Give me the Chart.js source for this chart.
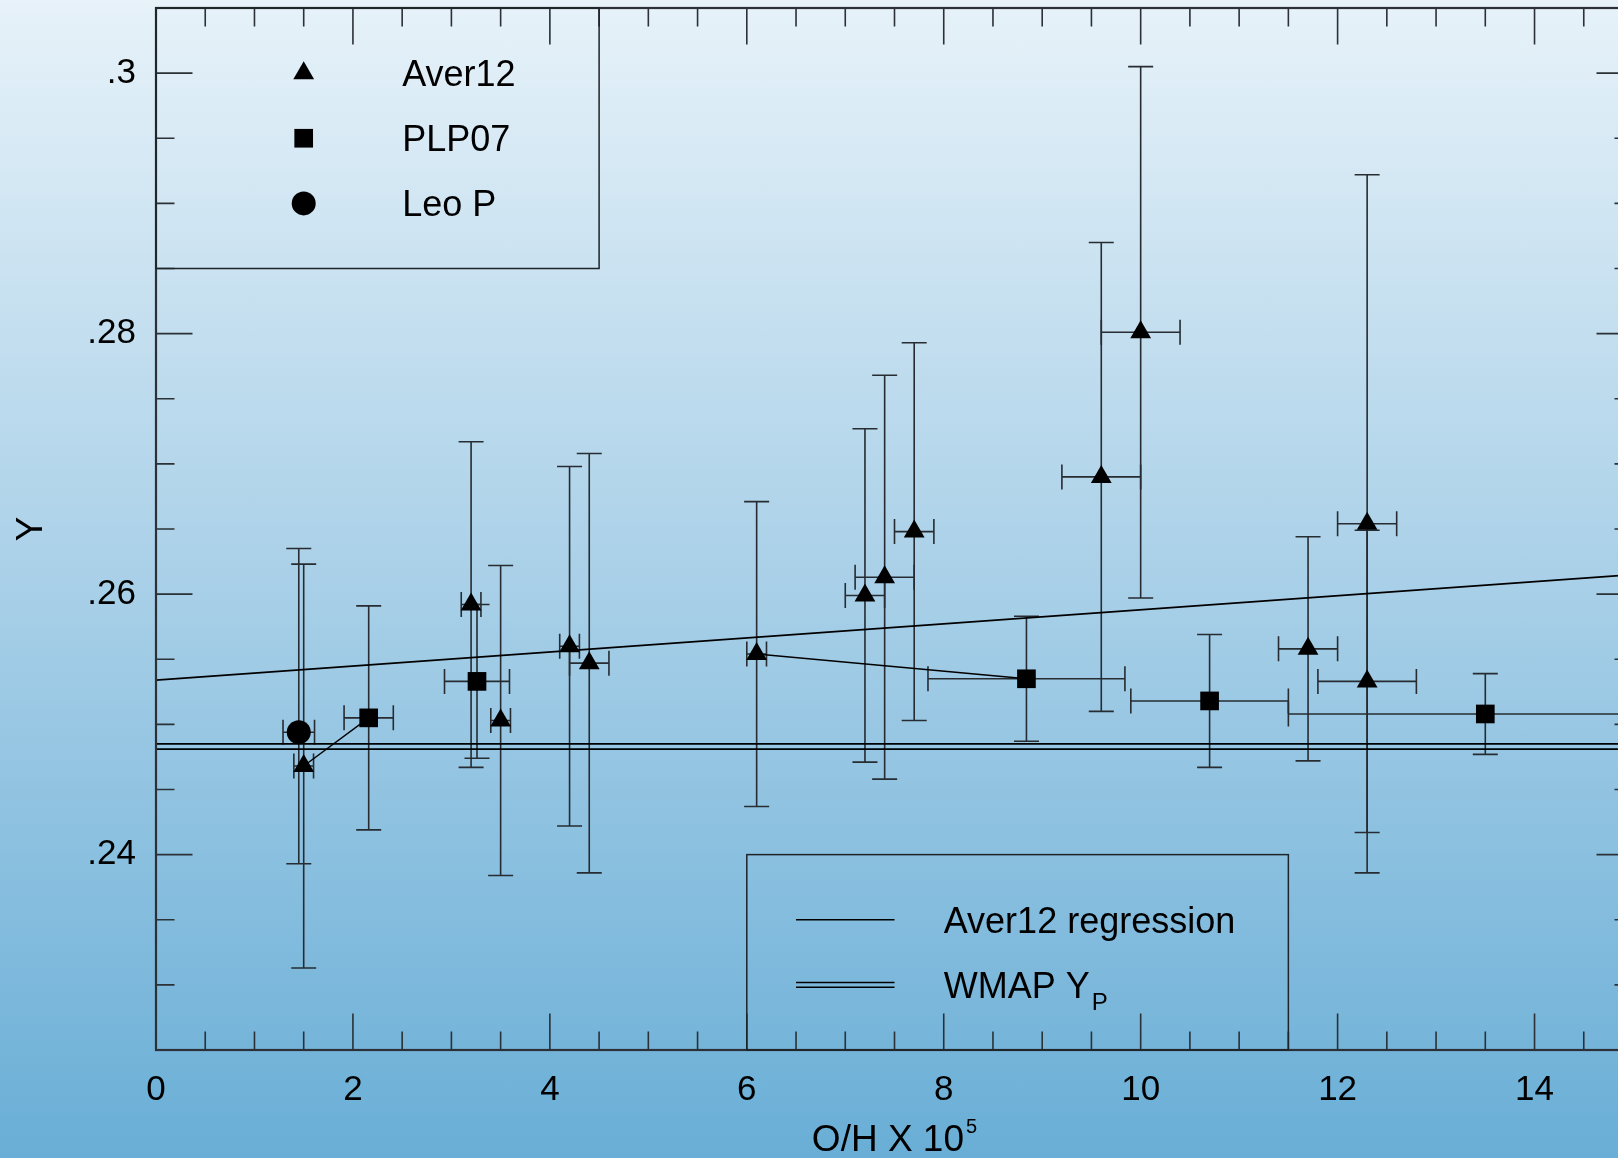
<!DOCTYPE html>
<html>
<head>
<meta charset="utf-8">
<title>Helium abundance versus O/H</title>
<script src="https://cdn.jsdelivr.net/npm/chart.js@4.4.0/dist/chart.umd.min.js"></script>
<style>
  html, body {
    margin: 0;
    padding: 0;
    width: 1618px;
    height: 1158px;
    overflow: hidden;
    background: linear-gradient(to bottom, #e7f2f9 0%, #a9d0e8 50%, #69aed6 100%);
  }
  #wrap {
    position: absolute;
    left: 0;
    top: 0;
    width: 1650px;
    height: 1158px;
  }
</style>
</head>
<body>
<div id="wrap"><canvas id="chart"></canvas></div>
<script>
// ---- Aver12 H II regions (O/H x 1e5, Y) ----
const averX    = [1.50, 3.20, 3.50, 4.20, 4.40, 6.10, 7.20, 7.40, 7.70, 9.60, 10.00, 11.70, 12.30, 12.30];
const averY    = [0.2468, 0.2592, 0.2503, 0.2560, 0.2547, 0.2554, 0.2599, 0.2613, 0.2648, 0.2690, 0.2801, 0.2558, 0.2654, 0.2533];
const averYErr = [0.0155, 0.0125, 0.0119, 0.0138, 0.0161, 0.0117, 0.0128, 0.0155, 0.0145, 0.0180, 0.0204, 0.0086, 0.0268, 0.0116];
const averXErr = [0.10, 0.10, 0.10, 0.10, 0.20, 0.10, 0.20, 0.30, 0.20, 0.40, 0.40, 0.30, 0.30, 0.50];

// ---- PLP07 ----
const plpX    = [2.16, 3.26, 8.84, 10.70, 13.50];
const plpY    = [0.2505, 0.2533, 0.2535, 0.2518, 0.2508];
const plpYErr = [0.0086, 0.0059, 0.0048, 0.0051, 0.0031];
const plpXErr = [0.25, 0.33, 1.00, 0.80, 2.00];

// ---- Leo P ----
const leoX      = [1.45];
const leoY      = [0.2494];
const leoYErrHi = [0.0141];
const leoYErrLo = [0.0101];
const leoXErr   = [0.16];

// ---- Aver12 regression line and WMAP Yp band ----
const regX  = [0, 15];
const regY  = [0.2534, 0.2615];
const wmapX = [0, 15];
const wmapHi = [0.2485, 0.2485];
const wmapLo = [0.2481, 0.2481];

// connecting segments: [Aver12 index, PLP07 index]
const links = [[0, 0], [5, 2]];

// ---- axes ----
const xTicks = [0, 2, 4, 6, 8, 10, 12, 14];
const xTickLabels = ['0', '2', '4', '6', '8', '10', '12', '14'];
const yTicks = [0.24, 0.26, 0.28, 0.30];
const yTickLabels = ['.24', '.26', '.28', '.3'];

const FONT = "'Liberation Sans', Arial, Helvetica, sans-serif";
const INK = '#000000';
const BAR = '#262c31';

function pts(xs, ys) { return xs.map((x, i) => ({ x: x, y: ys[i] })); }

const errorSeries = [
  { x: averX, y: averY, hi: averYErr, lo: averYErr, xe: averXErr },
  { x: plpX, y: plpY, hi: plpYErr, lo: plpYErr, xe: plpXErr },
  { x: leoX, y: leoY, hi: leoYErrHi, lo: leoYErrLo, xe: leoXErr }
];

// marker shapes shared by the plot and the legend
function drawMarker(ctx, style, x, y, r) {
  ctx.beginPath();
  if (style === 'triangle') {
    ctx.moveTo(x, y - r);
    ctx.lineTo(x + r * Math.sin(Math.PI * 2 / 3), y - r * Math.cos(Math.PI * 2 / 3));
    ctx.lineTo(x - r * Math.sin(Math.PI * 2 / 3), y - r * Math.cos(Math.PI * 2 / 3));
    ctx.closePath();
  } else if (style === 'rect') {
    const s = r * Math.SQRT1_2;
    ctx.rect(x - s, y - s, 2 * s, 2 * s);
  } else {
    ctx.arc(x, y, r, 0, Math.PI * 2);
  }
  ctx.fill();
}

const R_TRI = 12, R_RECT = 13.2, R_CIRC = 12;

const errorBars = {
  id: 'errorBars',
  beforeDatasetsDraw(chart) {
    const { ctx, scales: { x, y } } = chart;
    const cap = 12.5;
    ctx.save();
    ctx.strokeStyle = BAR;
    ctx.lineWidth = 1.6;
    errorSeries.forEach(s => {
      s.x.forEach((xv, i) => {
        const px = x.getPixelForValue(xv);
        const py = y.getPixelForValue(s.y[i]);
        const top = y.getPixelForValue(s.y[i] + s.hi[i]);
        const bot = y.getPixelForValue(s.y[i] - s.lo[i]);
        const l = x.getPixelForValue(xv - s.xe[i]);
        const r = x.getPixelForValue(xv + s.xe[i]);
        ctx.beginPath();
        ctx.moveTo(px, top); ctx.lineTo(px, bot);
        ctx.moveTo(px - cap, top); ctx.lineTo(px + cap, top);
        ctx.moveTo(px - cap, bot); ctx.lineTo(px + cap, bot);
        ctx.moveTo(l, py); ctx.lineTo(r, py);
        ctx.moveTo(l, py - cap); ctx.lineTo(l, py + cap);
        ctx.moveTo(r, py - cap); ctx.lineTo(r, py + cap);
        ctx.stroke();
      });
    });
    ctx.restore();
  }
};

// frame with inward major/minor ticks on all four sides, axis titles
const frame = {
  id: 'frame',
  afterDraw(chart) {
    const { ctx, chartArea: a, scales: { x, y } } = chart;
    const major = 36.5, minor = 18.5;
    ctx.save();
    ctx.strokeStyle = '#2b3136';
    ctx.lineWidth = 1.6;
    ctx.beginPath();
    for (let v = x.min; v <= x.max + 1e-9; v += 0.5) {
      const px = x.getPixelForValue(v);
      const len = Math.abs(v / 2 - Math.round(v / 2)) < 1e-9 ? major : minor;
      ctx.moveTo(px, a.bottom); ctx.lineTo(px, a.bottom - len);
      ctx.moveTo(px, a.top); ctx.lineTo(px, a.top + len);
    }
    for (let k = 0; k <= 16; k++) {
      const v = 0.225 + k * 0.005;
      const py = y.getPixelForValue(v);
      const len = (k % 4 === 3) ? major : minor;
      ctx.moveTo(a.left, py); ctx.lineTo(a.left + len, py);
      ctx.moveTo(a.right, py); ctx.lineTo(a.right - len, py);
    }
    ctx.stroke();
    ctx.lineWidth = 2.2;
    ctx.strokeRect(a.left, a.top, a.right - a.left, a.bottom - a.top);

    // axis titles
    ctx.fillStyle = INK;
    ctx.textBaseline = 'alphabetic';
    const main = 'O/H X 10';
    ctx.font = '37px ' + FONT;
    const w1 = ctx.measureText(main).width;
    ctx.font = '20px ' + FONT;
    const w2 = ctx.measureText('5').width;
    const cx = (a.left + a.right) / 2;
    const x0 = cx - (w1 + w2 + 2) / 2;
    ctx.font = '37px ' + FONT;
    ctx.textAlign = 'left';
    ctx.fillText(main, x0, 1151);
    ctx.font = '20px ' + FONT;
    ctx.fillText('5', x0 + w1 + 2, 1133);

    ctx.save();
    ctx.translate(42, (a.top + a.bottom) / 2);
    ctx.rotate(-Math.PI / 2);
    ctx.font = '37px ' + FONT;
    ctx.textAlign = 'center';
    ctx.fillText('Y', 0, 0);
    ctx.restore();
    ctx.restore();
  }
};

// the two legend boxes, placed in data space
const legends = {
  id: 'legends',
  afterDraw(chart) {
    const { ctx, scales: { x, y } } = chart;
    const fs = 36;
    ctx.save();
    ctx.strokeStyle = '#1e2428';
    ctx.lineWidth = 1.5;
    // upper-left box
    const b1l = x.getPixelForValue(0), b1r = x.getPixelForValue(4.5);
    const b1t = y.getPixelForValue(0.305), b1b = y.getPixelForValue(0.285);
    ctx.strokeRect(b1l, b1t, b1r - b1l, b1b - b1t);
    // lower box
    const b2l = x.getPixelForValue(6), b2r = x.getPixelForValue(11.5);
    const b2t = y.getPixelForValue(0.24), b2b = y.getPixelForValue(0.225);
    ctx.strokeRect(b2l, b2t, b2r - b2l, b2b - b2t);

    ctx.fillStyle = INK;
    ctx.font = fs + 'px ' + FONT;
    ctx.textAlign = 'left';
    ctx.textBaseline = 'alphabetic';
    const rows1 = [
      ['triangle', R_TRI, 'Aver12', 0.300],
      ['rect', R_RECT, 'PLP07', 0.295],
      ['circle', R_CIRC, 'Leo P', 0.290]
    ];
    rows1.forEach(([style, r, text, yv]) => {
      const py = y.getPixelForValue(yv);
      drawMarker(ctx, style, x.getPixelForValue(1.5), py, r);
      ctx.fillText(text, x.getPixelForValue(2.5), py + fs * 0.358);
    });

    // line samples
    const l0 = x.getPixelForValue(6.5), l1 = x.getPixelForValue(7.5);
    const tx = x.getPixelForValue(8.0);
    ctx.strokeStyle = INK;
    ctx.lineWidth = 1.5;
    const ry1 = y.getPixelForValue(0.235);
    ctx.beginPath();
    ctx.moveTo(l0, ry1); ctx.lineTo(l1, ry1);
    ctx.stroke();
    ctx.fillText('Aver12 regression', tx, ry1 + fs * 0.358);

    const ry2 = y.getPixelForValue(0.230);
    ctx.beginPath();
    ctx.moveTo(l0, ry2 - 2.4); ctx.lineTo(l1, ry2 - 2.4);
    ctx.moveTo(l0, ry2 + 2.4); ctx.lineTo(l1, ry2 + 2.4);
    ctx.stroke();
    const base = ry2 + fs * 0.358;
    ctx.fillText('WMAP Y', tx, base);
    const wy = ctx.measureText('WMAP Y').width;
    ctx.font = '24px ' + FONT;
    ctx.fillText('P', tx + wy + 2, base + 12);
    ctx.restore();
  }
};

const markerDefaults = { showLine: false, borderWidth: 0, backgroundColor: INK, borderColor: INK, pointHoverRadius: 0, order: 0 };
const lineDefaults = { showLine: true, pointRadius: 0, pointHoverRadius: 0, borderColor: INK, borderWidth: 1.6, fill: false, order: 2 };

const datasets = [
  Object.assign({ label: 'Aver12 regression', data: pts(regX, regY) }, lineDefaults),
  Object.assign({ label: 'WMAP Yp upper', data: pts(wmapX, wmapHi) }, lineDefaults),
  Object.assign({ label: 'WMAP Yp lower', data: pts(wmapX, wmapLo) }, lineDefaults)
];
links.forEach(([ai, pi], k) => {
  datasets.push(Object.assign({
    label: 'link ' + k,
    data: [{ x: averX[ai], y: averY[ai] }, { x: plpX[pi], y: plpY[pi] }]
  }, lineDefaults, { borderWidth: 1.4 }));
});
datasets.push(
  Object.assign({ label: 'Aver12', data: pts(averX, averY), pointStyle: 'triangle', pointRadius: R_TRI }, markerDefaults),
  Object.assign({ label: 'PLP07', data: pts(plpX, plpY), pointStyle: 'rect', pointRadius: R_RECT }, markerDefaults),
  Object.assign({ label: 'Leo P', data: pts(leoX, leoY), pointStyle: 'circle', pointRadius: R_CIRC }, markerDefaults)
);

new Chart(document.getElementById('chart'), {
  type: 'scatter',
  data: { datasets: datasets },
  options: {
    responsive: true,
    maintainAspectRatio: false,
    animation: false,
    events: [],
    layout: { autoPadding: false, padding: { top: 8, right: 17, left: 0, bottom: 0 } },
    plugins: { legend: { display: false }, tooltip: { enabled: false } },
    scales: {
      x: {
        type: 'linear',
        min: 0,
        max: 15,
        border: { display: false },
        grid: { display: false, drawTicks: false },
        afterBuildTicks: s => { s.ticks = xTicks.map(v => ({ value: v })); },
        afterFit: s => { s.height = 108; s.paddingLeft = 0; s.paddingRight = 0; },
        ticks: {
          padding: 19,
          color: INK,
          maxRotation: 0,
          autoSkip: false,
          font: { family: FONT, size: 35 },
          callback: (v, i) => xTickLabels[i]
        }
      },
      y: {
        type: 'linear',
        min: 0.225,
        max: 0.305,
        border: { display: false },
        grid: { display: false, drawTicks: false },
        afterBuildTicks: s => { s.ticks = yTicks.map(v => ({ value: v })); },
        afterFit: s => { s.width = 156; s.paddingTop = 0; s.paddingBottom = 0; },
        ticks: {
          padding: 20,
          color: INK,
          autoSkip: false,
          font: { family: FONT, size: 35 },
          callback: (v, i) => yTickLabels[i]
        }
      }
    }
  },
  plugins: [errorBars, frame, legends]
});
</script>
</body>
</html>
